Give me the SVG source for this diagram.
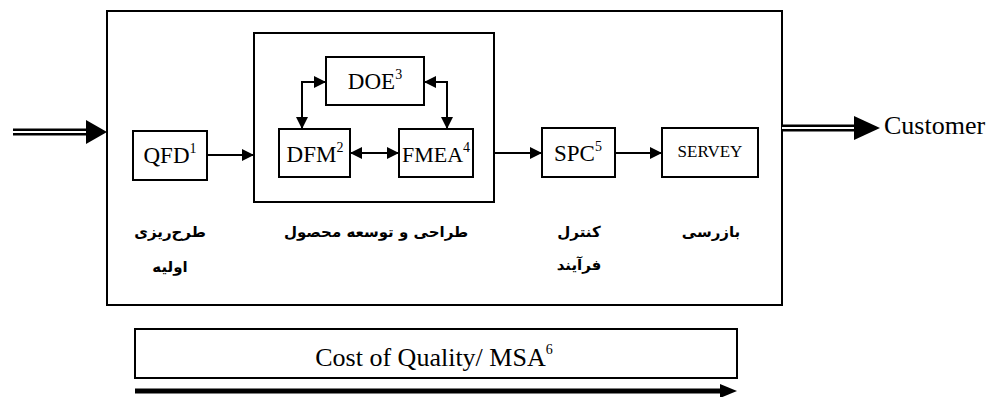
<svg xmlns="http://www.w3.org/2000/svg" width="996" height="397" viewBox="0 0 996 397">
<defs>
<style>
.box{fill:#fff;stroke:#000;stroke-width:2}
.frame{fill:none;stroke:#000;stroke-width:2}
.lbl{font-family:"Liberation Serif","Times New Roman",serif;fill:#000;text-anchor:middle}
.fa{font-family:"DejaVu Sans",sans-serif;font-weight:bold;font-size:15px;fill:#000;text-anchor:middle;direction:rtl}
.ln{fill:none;stroke:#000;stroke-width:2}
.sup{font-size:14px}
</style>
<marker id="ah" viewBox="0 0 10 10" refX="10" refY="5" markerWidth="12" markerHeight="12" markerUnits="userSpaceOnUse" orient="auto-start-reverse">
<path d="M0,0 L10,5 L0,10 Z" fill="#000"/>
</marker>
</defs>
<rect width="996" height="397" fill="#fff"/>

<g id="outer"><rect class="frame" x="107" y="11" width="675" height="294"/></g>
<g id="design-group"><rect class="frame" x="254" y="33" width="240" height="169"/></g>

<g id="qfd"><rect class="box" x="133" y="131" width="74" height="49"/>
<text class="lbl" x="170" y="163" font-size="23">QFD<tspan class="sup" dy="-10">1</tspan></text></g>
<g id="doe"><rect class="box" x="326" y="57" width="98" height="48"/>
<text class="lbl" x="375" y="89" font-size="23">DOE<tspan class="sup" dy="-10">3</tspan></text></g>
<g id="dfm"><rect class="box" x="279" y="129" width="71" height="48"/>
<text class="lbl" x="315" y="162" font-size="23">DFM<tspan class="sup" dy="-10">2</tspan></text></g>
<g id="fmea"><rect class="box" x="399" y="129" width="74" height="48"/>
<text class="lbl" x="436" y="162" font-size="22">FMEA<tspan class="sup" dy="-10">4</tspan></text></g>
<g id="spc"><rect class="box" x="542" y="128" width="73" height="49"/>
<text class="lbl" x="578" y="161" font-size="23">SPC<tspan class="sup" dy="-10">5</tspan></text></g>
<g id="servey"><rect class="box" x="662" y="128" width="96" height="49"/>
<text class="lbl" x="710" y="157" font-size="17">SERVEY</text></g>
<g id="customer"><text class="lbl" x="884" y="134" font-size="26" style="text-anchor:start">Customer</text></g>
<g id="cost"><rect class="box" x="135" y="329" width="602" height="49"/>
<text class="lbl" x="434" y="366" font-size="26">Cost of Quality/ MSA<tspan class="sup" font-size="16" dy="-12">6</tspan></text></g>

<g id="labels">
<text class="fa" x="170" y="237">طرح‌ریزی</text>
<text class="fa" x="170" y="272">اولیه</text>
<text class="fa" x="376" y="237">طراحی و توسعه محصول</text>
<text class="fa" x="579" y="237">کنترل</text>
<text class="fa" x="579" y="270">فرآیند</text>
<text class="fa" x="711" y="237">بازرسی</text>
</g>

<g id="connectors">
<line x1="13" y1="132" x2="90" y2="132" stroke="#000" stroke-width="7"/>
<line x1="13" y1="132" x2="90" y2="132" stroke="#fff" stroke-width="2"/>
<path d="M86,120 L107,132 L86,144 Z" fill="#000"/>
<line x1="782" y1="128" x2="858" y2="128" stroke="#000" stroke-width="7"/>
<line x1="782" y1="128" x2="858" y2="128" stroke="#fff" stroke-width="2"/>
<path d="M854,116 L880,128 L854,140 Z" fill="#000"/>
<line class="ln" x1="207" y1="155" x2="254" y2="155" marker-end="url(#ah)"/>
<line class="ln" x1="494" y1="153" x2="542" y2="153" marker-end="url(#ah)"/>
<line class="ln" x1="615" y1="153" x2="662" y2="153" marker-end="url(#ah)"/>
<path class="ln" d="M326,82 H302 V129" marker-start="url(#ah)" marker-end="url(#ah)"/>
<path class="ln" d="M424,82 H447 V129" marker-start="url(#ah)" marker-end="url(#ah)"/>
<line class="ln" x1="350" y1="153" x2="399" y2="153" marker-start="url(#ah)" marker-end="url(#ah)"/>
<line x1="135" y1="391" x2="724" y2="391" stroke="#000" stroke-width="5"/>
<path d="M720,384 L737,391 L720,398 Z" fill="#000"/>
</g>
</svg>
